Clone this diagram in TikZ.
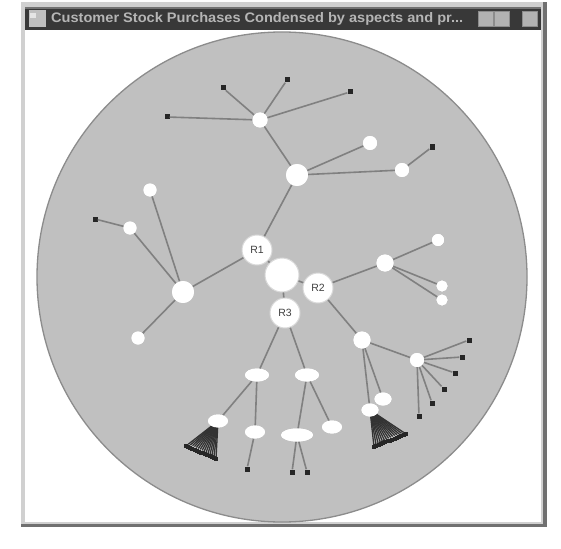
\documentclass[tikz,border=0pt]{standalone}
\usepackage{fontspec}
\setmainfont{Liberation Sans}
\usetikzlibrary{calc,shapes.geometric}
\definecolor{circgray}{HTML}{C0C0C0}
\definecolor{circedge}{HTML}{8C8C8C}
\definecolor{edgegray}{HTML}{808080}
\definecolor{titlebar}{HTML}{383838}
\definecolor{titletext}{HTML}{B5B5B5}
\definecolor{frameL}{HTML}{D0D0D0}
\definecolor{frameD}{HTML}{707070}
\begin{document}
\begin{tikzpicture}[x=1pt,y=-1pt,
  conn/.style={draw=edgegray,line width=1.6pt},
  fanln/.style={draw=black!80,line width=1.3pt},
  bignd/.style={circle,fill=white,draw=white!85!black,line width=1pt,minimum size=30pt,inner sep=0pt,font=\fontsize{10.5}{10.5}\selectfont,text=black!75},
  midnd/.style={circle,fill=white,minimum size=#1,inner sep=0pt},
  midnd/.default=16pt,
  ovnd/.style={ellipse,fill=white,minimum width=#1,minimum height=13pt,inner sep=0pt},
  bdot/.style={rectangle,fill=black!85,minimum size=5pt,inner sep=0pt},
  btn/.style={fill=black!30,draw=black!45}]
\useasboundingbox (0,0) rectangle (561,548);
\fill[white] (0,0) rectangle (561,548);
% window frame
\fill[frameD] (21,2) rectangle (547,527);
\fill[frameL] (21,2) rectangle (543,524);
\fill[white] (25,7) rectangle (541,522);
% circle
\begin{scope}
\clip (25,31) rectangle (541,522);
\draw[fill=circgray,draw=circedge,line width=1.3pt] (282,277) circle (245);
\end{scope}
% title bar
\fill[titlebar] (25,7) rectangle (541,30);
\fill[black!55] (25,7) rectangle (541,9);
\node[fill=black!25,minimum width=17pt,minimum height=17pt,inner sep=0pt] (icon) at (37,19) {};
\fill[white!90!black] (30,13) rectangle (36,18);
\node[anchor=west,text=titletext,inner sep=0pt] (title) at (51,19) {\resizebox{412pt}{10pt}{\bfseries Customer Stock Purchases Condensed by aspects and pr...}};
\node[btn,minimum width=15pt,minimum height=15pt,inner sep=0pt] (bmin) at (486,19) {};
\node[btn,minimum width=15pt,minimum height=15pt,inner sep=0pt] (bmax) at (502,19) {};
\node[btn,minimum width=15pt,minimum height=15pt,inner sep=0pt] (bcls) at (530,19) {};

% black leaf nodes
\node[bdot] (td1) at (167,117) {};
\node[bdot] (td2) at (223,88) {};
\node[bdot] (td3) at (287,80) {};
\node[bdot] (td4) at (350,92) {};
\node[bdot] (td5) at (432,147) {};
\node[bdot] (ld1) at (95,219) {};
\node[bdot] (sd1) at (469,340) {};
\node[bdot] (sd2) at (462,357) {};
\node[bdot] (sd3) at (455,373) {};
\node[bdot] (sd4) at (444,389) {};
\node[bdot] (sd5) at (432,403) {};
\node[bdot] (sd6) at (419,416) {};
\node[bdot] (bd1) at (247,469) {};
\node[bdot] (bd2) at (292,472) {};
\node[bdot] (bd3) at (307,472) {};
% fans
\foreach \i in {0,...,14}{
  \node[bdot,minimum size=4pt] (fa\i) at ($(186,446)!\i/14!(216,459)$) {};
  \node[bdot,minimum size=4pt] (fb\i) at ($(374,447)!\i/14!(406,434)$) {};
}

\coordinate (cR1) at (257,250);
\coordinate (cRt) at (282,275);
\coordinate (cR2) at (318,288);
\coordinate (cR3) at (285,313);

% white nodes
\node[midnd=22pt] (t0) at (297,175) {};
\node[midnd=15pt] (t1) at (260,120) {};
\node[midnd=14pt] (t2) at (370,143) {};
\node[midnd=14pt] (t3) at (402,170) {};
\node[midnd=22pt] (l0) at (183,292) {};
\node[midnd=13pt] (l1) at (150,190) {};
\node[midnd=13pt] (l2) at (130,228) {};
\node[midnd=13pt] (l3) at (138,338) {};
\node[midnd=17pt] (r0) at (385,263) {};
\node[midnd=12pt] (r1) at (438,240) {};
\node[midnd=11pt] (r2) at (442,286) {};
\node[midnd=11pt] (r3) at (442,300) {};
\node[midnd=17pt] (s0) at (362,340) {};
\node[midnd=14pt] (s1) at (417,360) {};
\node[ovnd=17pt] (s2) at (383,399) {};
\node[ovnd=17pt] (s3) at (370,410) {};
\node[ovnd=24pt] (b1) at (257,375) {};
\node[ovnd=24pt] (b2) at (307,375) {};
\node[ovnd=20pt] (b3) at (218,421) {};
\node[ovnd=20pt] (b4) at (255,432) {};
\node[ovnd=32pt] (b5) at (297,435) {};
\node[ovnd=20pt] (b6) at (332,427) {};

% edges
\begin{scope}[every path/.style={conn}]
\draw (cRt) -- (cR1);
\draw (cRt) -- (cR2);
\draw (cRt) -- (cR3);
\draw (cR1) -- (t0);
\draw (cR1) -- (l0);
\draw (t0) -- (t1);
\draw (t1) -- (td1); \draw (t1) -- (td2); \draw (t1) -- (td3); \draw (t1) -- (td4);
\draw (t0) -- (t2); \draw (t0) -- (t3); \draw (t3) -- (td5);
\draw (l0) -- (l1); \draw (l0) -- (l2); \draw (l2) -- (ld1); \draw (l0) -- (l3);
\draw (cR2) -- (r0); \draw (r0) -- (r1); \draw (r0) -- (r2); \draw (r0) -- (r3);
\draw (cR2) -- (s0); \draw (s0) -- (s1);
\draw (s1) -- (sd1); \draw (s1) -- (sd2); \draw (s1) -- (sd3); \draw (s1) -- (sd4); \draw (s1) -- (sd5); \draw (s1) -- (sd6);
\draw (s0) -- (s2); \draw (s0) -- (s3);
\draw (cR3) -- (b1); \draw (cR3) -- (b2);
\draw (b1) -- (b3); \draw (b1) -- (b4); \draw (b4) -- (bd1);
\draw (b2) -- (b5); \draw (b2) -- (b6); \draw (b5) -- (bd2); \draw (b5) -- (bd3);
\end{scope}
\foreach \i in {0,...,14}{
  \draw[fanln] (b3) -- (fa\i);
  \draw[fanln] (s3) -- (fb\i);
}
% redraw white nodes above edges
\foreach \n/\w in {t0/22,t1/15,t2/14,t3/14,l0/22,l1/13,l2/13,l3/13,r0/17,r1/12,r2/11,r3/11,s0/17,s1/14}{
  \fill[white] (\n) circle (\w/2);
}
\foreach \n/\w in {s2/17,s3/17,b1/24,b2/24,b3/20,b4/20,b5/32,b6/20}{
  \fill[white] (\n) ellipse ({\w/2} and 6.5);
}
% big nodes
\node[bignd,minimum size=34pt] (Rt) at (cRt) {};
\node[bignd] (R1) at (cR1) {R1};
\node[bignd] (R2) at (cR2) {R2};
\node[bignd] (R3) at (cR3) {R3};
\end{tikzpicture}
\end{document}
